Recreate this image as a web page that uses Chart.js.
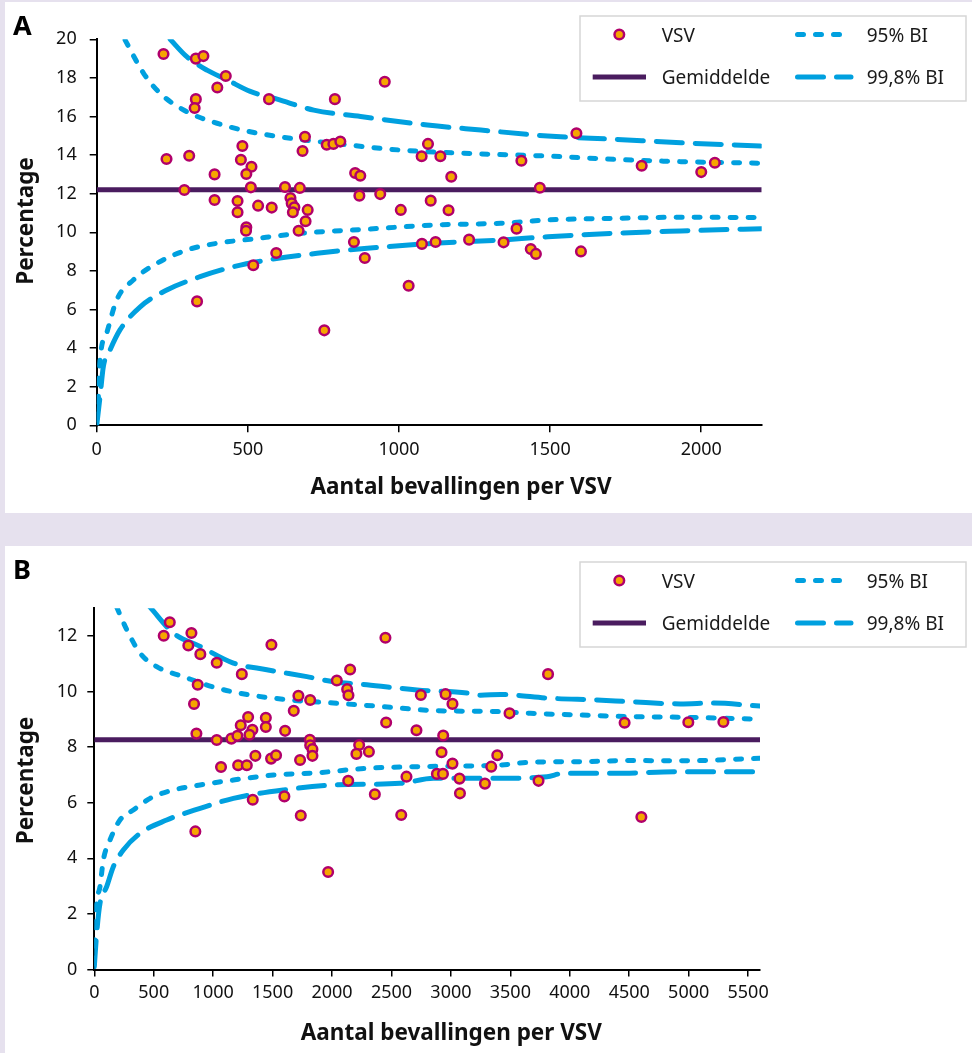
<!DOCTYPE html>
<html>
<head>
<meta charset="utf-8">
<script src="https://cdn.jsdelivr.net/npm/chart.js@4.4.1/dist/chart.umd.min.js"></script>
<style>
    body { margin: 0; background: #e6e1ee; width: 972px; height: 1053px; position: relative; overflow: hidden; }
    .panel { position: absolute; left: 5px; width: 967px; background: #fff; }
    #panel-a { top: 2px; height: 511px; }
    #panel-b { top: 546px; height: 507px; }
</style>
</head>
<body>
<div class="panel" id="panel-a"><canvas id="chart-a"></canvas></div>
<div class="panel" id="panel-b"><canvas id="chart-b"></canvas></div>
<script>
// Panel A: deliveries per VSV and percentage
const sizesA = [221, 328, 353, 427, 399, 328, 324, 570, 788, 953, 231, 306, 390, 482, 477, 512, 495, 290,
    510, 390, 466, 466, 534, 579, 495, 494, 623, 672, 641, 645, 654, 649, 698, 691, 668, 689, 681, 761,
    783, 806, 855, 872, 869, 938, 1006, 851, 887, 594, 518, 1032, 1075, 1096, 1137, 1173, 1105, 1164,
    1076, 1121, 1232, 1346, 332, 753, 1587, 1405, 1466, 1803, 2000, 2045, 1389, 1436, 1453, 1602];
const pctA = [19.24, 19.0, 19.13, 18.1, 17.5, 16.9, 16.44, 16.9, 16.9, 17.8, 13.8, 13.97, 13.0, 14.47, 13.76,
    13.4, 13.02, 12.19, 12.33, 11.67, 11.62, 11.04, 11.38, 11.28, 10.26, 10.08, 12.35, 12.3, 11.78, 11.5,
    11.3, 11.04, 11.16, 10.57, 10.08, 14.95, 14.21, 14.54, 14.58, 14.7, 13.07, 12.93, 11.9, 11.98, 11.16,
    9.5, 8.67, 8.93, 8.29, 7.23, 13.94, 14.58, 13.94, 12.88, 11.64, 11.14, 9.4, 9.5, 9.62, 9.48, 6.42,
    4.92, 15.13, 13.71, 12.31, 13.45, 13.12, 13.6, 10.19, 9.13, 8.88, 9.01];
const meanA = 12.2;
const up95A = [[94, 19.96], [155, 18.24], [210, 17.2], [298, 16.25], [398, 15.65], [508, 15.21], [641, 14.87],
    [784, 14.61], [1005, 14.26], [1271, 14.06], [1492, 13.95], [1712, 13.78], [1933, 13.66], [2200, 13.58]];
const lo95A = [[0, 0.27], [5, 1.3], [11, 3.38], [33, 4.77], [66, 6.49], [121, 7.53], [199, 8.39], [298, 9.08],
    [398, 9.43], [508, 9.64], [674, 9.95], [895, 10.16], [1116, 10.38], [1337, 10.47], [1492, 10.64],
    [1712, 10.72], [1933, 10.78], [2200, 10.76]];
const up998A = [[243, 20.0], [298, 19.1], [365, 18.4], [431, 17.9], [508, 17.3], [597, 16.9], [718, 16.33],
    [873, 16.0], [1094, 15.56], [1271, 15.3], [1492, 14.99], [1712, 14.82], [1933, 14.64], [2200, 14.47]];
const lo998A = [[0, 0], [11, 1.48], [22, 3.04], [44, 3.9], [77, 4.94], [144, 6.14], [232, 7.01], [342, 7.7],
    [453, 8.22], [563, 8.56], [729, 8.91], [895, 9.17], [1116, 9.43], [1337, 9.6], [1492, 9.77],
    [1712, 9.95], [1933, 10.07], [2200, 10.19]];
const xTicksA = [0, 500, 1000, 1500, 2000];
const yTicksA = [0, 2, 4, 6, 8, 10, 12, 14, 16, 18, 20];

// Panel B
const sizesB = [635, 584, 817, 791, 892, 1030, 1490, 1241, 870, 839, 859, 1030, 1153, 1204, 1232, 1294, 1330,
    1305, 1443, 1443, 1066, 1210, 1283, 1355, 1487, 1529, 1333, 1605, 1678, 1717, 1816, 1813, 1816, 1835,
    1835, 1731, 1599, 2040, 2127, 2138, 2152, 2449, 2455, 2228, 2205, 2310, 2136, 2360, 2710, 2747, 2626,
    2955, 3013, 2935, 2921, 3013, 2882, 2933, 3072, 3076, 3286, 3339, 3390, 850, 1737, 1967, 2582, 3817,
    3493, 4461, 4997, 5292, 3737, 4602];
const pctB = [12.5, 12.01, 12.11, 11.66, 11.35, 11.04, 11.69, 10.63, 10.25, 9.56, 8.49, 8.26, 8.31, 8.41,
    8.79, 9.09, 8.63, 8.45, 9.06, 8.73, 7.29, 7.35, 7.35, 7.69, 7.59, 7.71, 6.11, 8.59, 9.31, 9.85, 9.7,
    8.27, 8.07, 7.93, 7.69, 7.54, 6.23, 10.4, 10.09, 9.87, 10.8, 11.94, 8.89, 8.08, 7.76, 7.84, 6.79, 6.31,
    8.61, 9.88, 6.94, 9.91, 9.56, 8.42, 7.82, 7.41, 7.04, 7.04, 6.87, 6.34, 6.69, 7.3, 7.71, 4.97, 5.54,
    3.51, 5.56, 10.63, 9.22, 8.88, 8.9, 8.91, 6.79, 5.49];
const meanB = 8.27;
const up95B = [[189, 13.04], [273, 12.23], [385, 11.39], [525, 10.9], [749, 10.54], [1030, 10.13], [1311, 9.88],
    [1647, 9.7], [2012, 9.59], [2433, 9.46], [2854, 9.32], [3415, 9.28], [3668, 9.22], [4088, 9.16],
    [4509, 9.1], [4930, 9.08], [5600, 9.01]];
const lo95B = [[0, 0.2], [3, 1.0], [20, 2.38], [48, 2.98], [76, 3.94], [132, 4.66], [216, 5.38], [328, 5.74],
    [469, 6.16], [665, 6.46], [890, 6.64], [1170, 6.82], [1507, 7.0], [1872, 7.08], [2293, 7.24],
    [2714, 7.3], [3415, 7.36], [3668, 7.46], [4088, 7.48], [4509, 7.52], [4930, 7.51], [5600, 7.6]];
const up998B = [[469, 13.04], [665, 12.11], [890, 11.63], [1170, 11.03], [1451, 10.79], [1788, 10.54],
    [2012, 10.36], [2293, 10.25], [2714, 10.06], [3135, 9.95], [3250, 9.87], [3420, 9.9], [3527, 9.88],
    [3808, 9.77], [4229, 9.7], [4509, 9.64], [4930, 9.56], [5210, 9.59], [5600, 9.48]];
const lo998B = [[0, 0.1], [20, 1.3], [48, 2.38], [104, 2.98], [160, 3.7], [244, 4.3], [385, 4.9], [609, 5.38],
    [890, 5.8], [1170, 6.16], [1591, 6.46], [2012, 6.64], [2573, 6.7], [2854, 6.88], [3387, 6.88],
    [3808, 6.94], [3948, 7.06], [4369, 7.06], [4930, 7.12], [5600, 7.12]];
const xTicksB = [0, 500, 1000, 1500, 2000, 2500, 3000, 3500, 4000, 4500, 5000, 5500];
const yTicksB = [0, 2, 4, 6, 8, 10, 12];

const FONT = "'Noto Sans', sans-serif";
const ORANGE = '#f6a500';
const MAGENTA = '#b1006b';
const PURPLE = '#4a1c5f';
const BLUE = '#00a0df';
const DOT = [6, 12];
const DASH = [26, 13];

function pairs(xs, ys) {
    return xs.map((x, i) => ({ x: x, y: ys[i] }));
}

function curve(label, list, dash) {
    return {
        label: label,
        data: list.map(p => ({ x: p[0], y: p[1] })),
        showLine: true,
        borderColor: BLUE,
        backgroundColor: BLUE,
        borderWidth: 5,
        borderDash: dash,
        borderCapStyle: 'round',
        cubicInterpolationMode: 'monotone',
        pointRadius: 0,
        pointHoverRadius: 0
    };
}

// panel letter, axis titles (off-centre in the original) and the boxed two-column legend
const boxLegend = {
    id: 'boxLegend',
    afterDraw(chart, args, opts) {
        const ctx = chart.ctx;
        const ds = chart.data.datasets;
        const sc = chart.options.scales;
        const top = opts.top;
        const r1 = top + 18.5;
        const r2 = top + 61;
        ctx.save();

        ctx.fillStyle = '#000';
        ctx.font = 'bold 27px ' + FONT;
        ctx.textBaseline = 'alphabetic';
        ctx.fillText(opts.letter, 8, 33);

        ctx.fillStyle = '#111';
        ctx.font = 'bold 22.5px ' + FONT;
        ctx.textAlign = 'center';
        ctx.textBaseline = 'middle';
        ctx.fillText(sc.x.title.text, opts.xTitle[0], opts.xTitle[1]);
        ctx.save();
        ctx.translate(opts.yTitle[0], opts.yTitle[1]);
        ctx.rotate(-Math.PI / 2);
        ctx.fillText(sc.y.title.text, 0, 0);
        ctx.restore();
        ctx.textAlign = 'left';

        ctx.strokeStyle = '#d6d6d6';
        ctx.lineWidth = 1.5;
        ctx.strokeRect(575, top, 386, 85);

        // VSV marker
        ctx.beginPath();
        ctx.arc(614.3, r1, 4.8, 0, Math.PI * 2);
        ctx.fillStyle = ds[0].backgroundColor;
        ctx.fill();
        ctx.lineWidth = ds[0].borderWidth;
        ctx.strokeStyle = ds[0].borderColor;
        ctx.stroke();

        // line samples
        const sample = (d, x1, x2, y) => {
            ctx.beginPath();
            ctx.strokeStyle = d.borderColor;
            ctx.lineWidth = d.borderWidth;
            ctx.lineCap = d.borderCapStyle || 'butt';
            ctx.setLineDash(d.borderDash || []);
            ctx.moveTo(x1, y);
            ctx.lineTo(x2, y);
            ctx.stroke();
        };
        sample(ds[3], 587.7, 641, r2);
        sample(ds[1], 792.5, 846, r1);
        sample(ds[4], 792.5, 846, r2);

        ctx.setLineDash([]);
        ctx.fillStyle = '#1a1a1a';
        ctx.font = '19px ' + FONT;
        ctx.textBaseline = 'middle';
        ctx.fillText(ds[0].label, 656.7, r1 + 2);
        ctx.fillText(ds[3].label, 656.7, r2 + 2);
        ctx.fillText(ds[1].label, 861.7, r1 + 2);
        ctx.fillText(ds[4].label, 861.7, r2 + 2);
        ctx.restore();
    }
};

function makeConfig(p) {
    return {
        type: 'scatter',
        data: {
            datasets: [
                {
                    label: 'VSV',
                    data: pairs(p.sizes, p.pct),
                    backgroundColor: ORANGE,
                    borderColor: MAGENTA,
                    borderWidth: 2.5,
                    pointRadius: 4.8,
                    pointHoverRadius: 4.8
                },
                curve('95% BI', p.up95, DOT),
                curve('95% BI', p.lo95, DOT),
                {
                    label: 'Gemiddelde',
                    data: [{ x: 0, y: p.mean }, { x: p.xMax, y: p.mean }],
                    showLine: true,
                    borderColor: PURPLE,
                    backgroundColor: PURPLE,
                    borderWidth: 5,
                    pointRadius: 0,
                    pointHoverRadius: 0
                },
                curve('99,8% BI', p.up998, DASH),
                curve('99,8% BI', p.lo998, DASH)
            ]
        },
        options: {
            animation: false,
            responsive: true,
            maintainAspectRatio: false,
            layout: {
                padding: { left: 0, top: p.padTop, right: p.padRight, bottom: 0 }
            },
            plugins: {
                legend: { display: false },
                tooltip: { enabled: false },
                boxLegend: { top: p.legendTop, letter: p.letter, xTitle: p.xTitle, yTitle: p.yTitle }
            },
            scales: {
                x: {
                    type: 'linear',
                    min: 0,
                    max: p.xMax,
                    afterBuildTicks: function (scale) {
                        scale.ticks = p.xTicks.map(v => ({ value: v }));
                    },
                    afterFit: function (scale) { scale.height = p.xAxisH; },
                    border: { display: true, color: '#000', width: 2 },
                    grid: { drawOnChartArea: false, drawTicks: true, tickLength: 7, color: '#000', lineWidth: 1.5 },
                    ticks: {
                        autoSkip: false,
                        maxRotation: 0,
                        padding: p.xTickPad,
                        color: '#111',
                        font: { family: FONT, size: 18 },
                        callback: v => String(v)
                    },
                    title: { display: false, text: 'Aantal bevallingen per VSV' }
                },
                y: {
                    type: 'linear',
                    min: 0,
                    max: p.yMax,
                    afterBuildTicks: function (scale) {
                        scale.ticks = p.yTicks.map(v => ({ value: v }));
                    },
                    afterFit: function (scale) { scale.width = p.yAxisW; },
                    border: { display: true, color: '#000', width: 2 },
                    grid: { drawOnChartArea: false, drawTicks: true, tickLength: 7, color: '#000', lineWidth: 1.5 },
                    ticks: {
                        autoSkip: false,
                        padding: p.yTickPad,
                        color: '#111',
                        font: { family: FONT, size: 18 },
                        callback: v => String(v)
                    },
                    title: { display: false, text: 'Percentage' }
                }
            }
        },
        plugins: [boxLegend]
    };
}

const chart_a = new Chart(
    document.getElementById('chart-a'),
    makeConfig({
        letter: 'A', sizes: sizesA, pct: pctA, mean: meanA,
        up95: up95A, lo95: lo95A, up998: up998A, lo998: lo998A,
        xMax: 2200, yMax: 20, xTicks: xTicksA, yTicks: yTicksA,
        padTop: 37.3, padRight: 210.3, yAxisW: 91.7, xAxisH: 87.7,
        xTickPad: 6.5, yTickPad: 13, legendTop: 14,
        xTitle: [456, 485.3], yTitle: [22, 219]
    })
);

const chart_b = new Chart(
    document.getElementById('chart-b'),
    makeConfig({
        letter: 'B', sizes: sizesB, pct: pctB, mean: meanB,
        up95: up95B, lo95: lo95B, up998: up998B, lo998: lo998B,
        xMax: 5600, yMax: 13, xTicks: xTicksB, yTicks: yTicksB,
        padTop: 62.3, padRight: 212, yAxisW: 89.3, xAxisH: 83.5,
        xTickPad: 5.5, yTickPad: 10, legendTop: 16,
        xTitle: [446.3, 487.3], yTitle: [22, 234.5]
    })
);
</script>
</body>
</html>
